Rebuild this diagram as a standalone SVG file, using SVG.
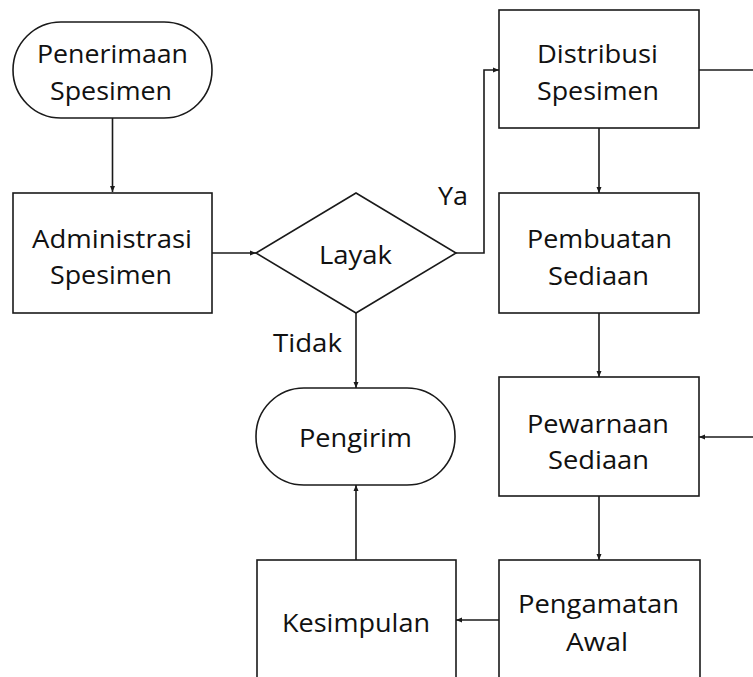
<svg xmlns="http://www.w3.org/2000/svg" width="753" height="677" viewBox="0 0 753 677">
  <style>
    .shape { fill: #ffffff; stroke: #1a1a1a; stroke-width: 1.6; }
    .edge { fill: none; stroke: #1a1a1a; stroke-width: 1.6; }
    .label { font-family: "Open Sans", "Noto Sans", sans-serif; font-size: 25px; fill: #111111; text-anchor: middle; }
  </style>
  <defs>
    <marker id="arrow" viewBox="0 0 6 6" refX="6" refY="3" markerWidth="6" markerHeight="6" markerUnits="userSpaceOnUse" orient="auto">
      <path d="M0,0.5 L6,3 L0,5.5 Z" fill="#1a1a1a"/>
    </marker>
  </defs>

  <rect width="753" height="677" fill="#ffffff"/>

  <!-- connectors -->
  <g id="connectors">
    <path class="edge" d="M112.5,118 V192" marker-end="url(#arrow)"/>
    <path class="edge" d="M212,253 H256" marker-end="url(#arrow)"/>
    <path class="edge" d="M456,253 H484 V70 H499" marker-end="url(#arrow)"/>
    <path class="edge" d="M356,313 V388" marker-end="url(#arrow)"/>
    <path class="edge" d="M699,70 H753"/>
    <path class="edge" d="M599,128 V193" marker-end="url(#arrow)"/>
    <path class="edge" d="M599,313 V377" marker-end="url(#arrow)"/>
    <path class="edge" d="M753,437 H699" marker-end="url(#arrow)"/>
    <path class="edge" d="M599,496 V560" marker-end="url(#arrow)"/>
    <path class="edge" d="M499,620 H456" marker-end="url(#arrow)"/>
    <path class="edge" d="M356,560 V485" marker-end="url(#arrow)"/>
    <text class="label" x="453" y="205" textLength="30" lengthAdjust="spacingAndGlyphs">Ya</text>
    <text class="label" x="307.5" y="352" textLength="69" lengthAdjust="spacingAndGlyphs">Tidak</text>
  </g>

  <g id="penerimaan-spesimen">
    <rect class="shape" x="13" y="22" width="199" height="96" rx="48" ry="48"/>
    <text class="label" x="112.5" y="63" textLength="151" lengthAdjust="spacingAndGlyphs">Penerimaan</text>
    <text class="label" x="111" y="100" textLength="122" lengthAdjust="spacingAndGlyphs">Spesimen</text>
  </g>

  <g id="administrasi-spesimen">
    <rect class="shape" x="13" y="193" width="199" height="120"/>
    <text class="label" x="112" y="248" textLength="160" lengthAdjust="spacingAndGlyphs">Administrasi</text>
    <text class="label" x="111" y="284" textLength="122" lengthAdjust="spacingAndGlyphs">Spesimen</text>
  </g>

  <g id="layak">
    <polygon class="shape" points="356,193 456,253 356,313 256,253"/>
    <text class="label" x="355.5" y="264" textLength="73" lengthAdjust="spacingAndGlyphs">Layak</text>
  </g>

  <g id="pengirim">
    <rect class="shape" x="256" y="388" width="199" height="97" rx="48" ry="48"/>
    <text class="label" x="355.5" y="447" textLength="113" lengthAdjust="spacingAndGlyphs">Pengirim</text>
  </g>

  <g id="distribusi-spesimen">
    <rect class="shape" x="499" y="10" width="200" height="118"/>
    <text class="label" x="597.5" y="63" textLength="121" lengthAdjust="spacingAndGlyphs">Distribusi</text>
    <text class="label" x="598" y="100" textLength="122" lengthAdjust="spacingAndGlyphs">Spesimen</text>
  </g>

  <g id="pembuatan-sediaan">
    <rect class="shape" x="499" y="193" width="200" height="120"/>
    <text class="label" x="599.5" y="248" textLength="145" lengthAdjust="spacingAndGlyphs">Pembuatan</text>
    <text class="label" x="598.5" y="285" textLength="101" lengthAdjust="spacingAndGlyphs">Sediaan</text>
  </g>

  <g id="pewarnaan-sediaan">
    <rect class="shape" x="499" y="377" width="200" height="119"/>
    <text class="label" x="598" y="433" textLength="142" lengthAdjust="spacingAndGlyphs">Pewarnaan</text>
    <text class="label" x="598.5" y="469" textLength="101" lengthAdjust="spacingAndGlyphs">Sediaan</text>
  </g>

  <g id="pengamatan-awal">
    <rect class="shape" x="499" y="560" width="201" height="130"/>
    <text class="label" x="598.5" y="613" textLength="161" lengthAdjust="spacingAndGlyphs">Pengamatan</text>
    <text class="label" x="597" y="651" textLength="62" lengthAdjust="spacingAndGlyphs">Awal</text>
  </g>

  <g id="kesimpulan">
    <rect class="shape" x="257" y="560" width="199" height="130"/>
    <text class="label" x="356" y="632" textLength="148" lengthAdjust="spacingAndGlyphs">Kesimpulan</text>
  </g>
</svg>
